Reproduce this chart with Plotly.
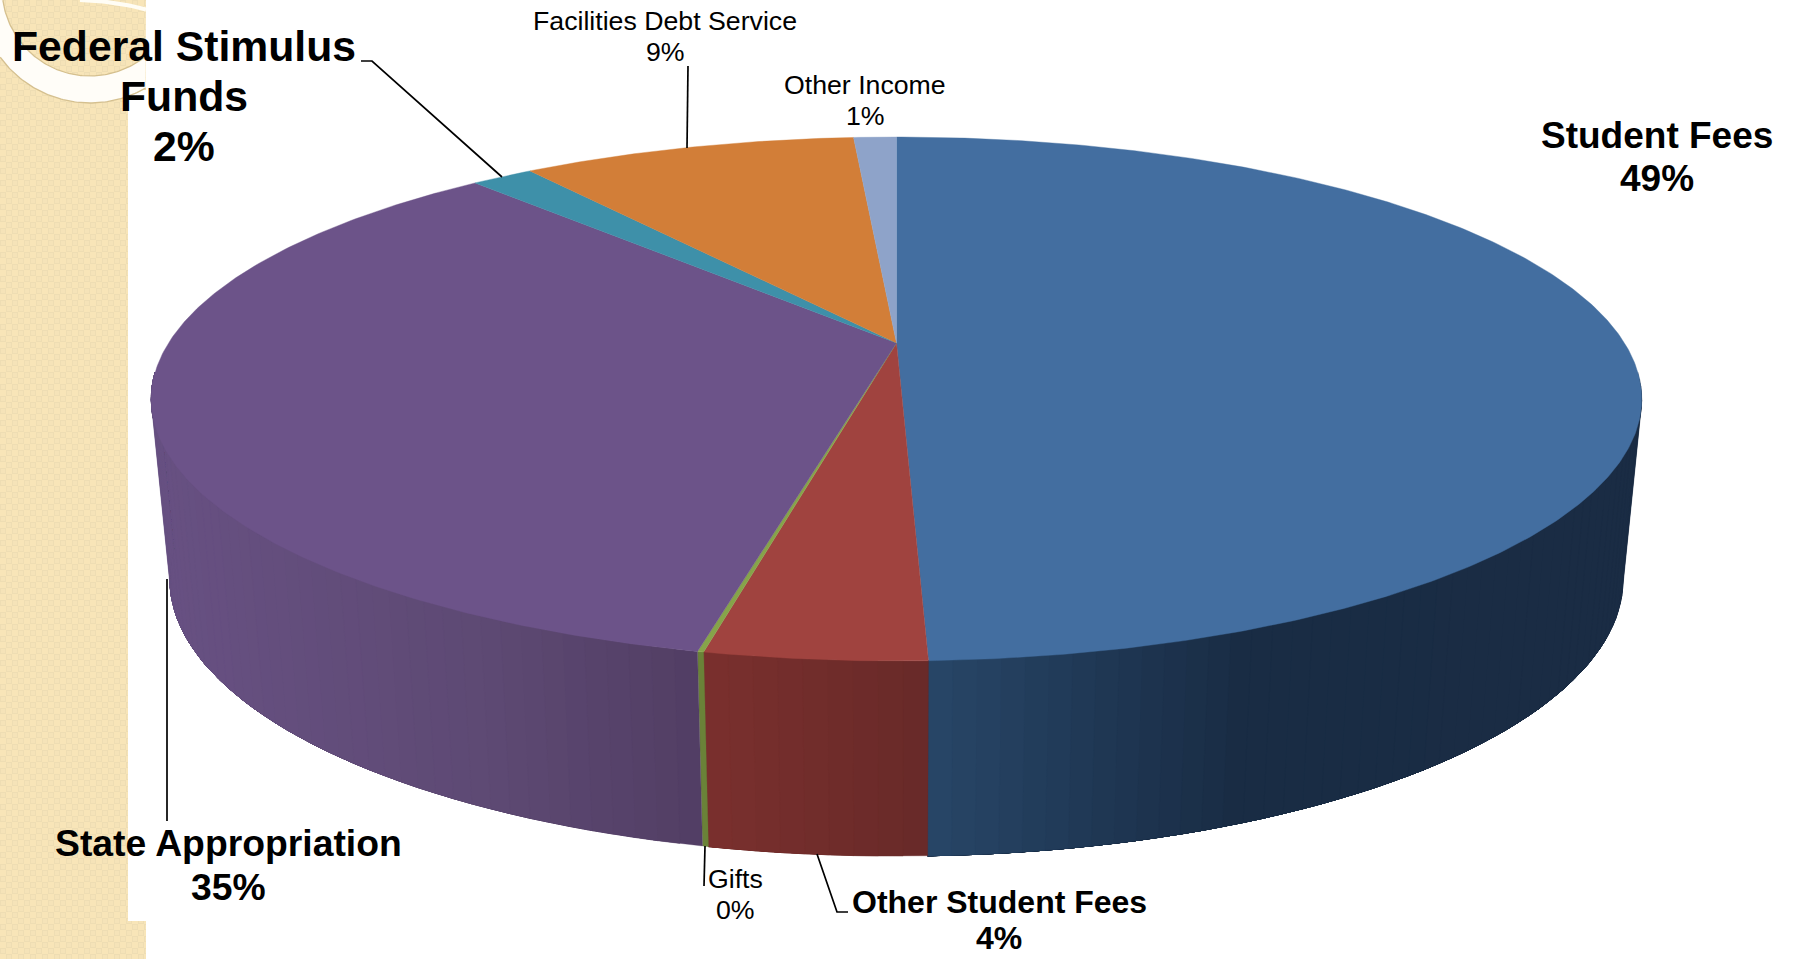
import numpy as np
import plotly.graph_objects as go

# Funding shares, percent, clockwise from twelve o'clock
categories = ["Student Fees", "Other Student Fees", "Gifts", "State Appropriation",
              "Federal Stimulus Funds", "Facilities Debt Service", "Other Income"]
shares = [49.45, 3.91, 0.11, 34.83, 1.65, 8.91, 1.14]

top_colors = ["#436ea0", "#a0433f", "#86a44a", "#6c5389", "#3e90a9", "#d27e38", "#8ea3c9"]
# Side-wall shading as (pixel x, rgb) stops per slice
wall_stops = {
    "Student Fees": [(929, (40, 70, 104)), (1250, (25, 44, 68)), (1640, (27, 45, 69))],
    "Other Student Fees": [(704, (122, 48, 46)), (929, (105, 42, 41))],
    "Gifts": [(690, (106, 130, 56)), (720, (106, 130, 56))],
    "State Appropriation": [(150, (104, 81, 131)), (480, (94, 74, 116)), (700, (82, 62, 100))],
}

W, H = 1797, 959

# Projection of the pie: perspective on a unit disc, separate rims for top and bottom
CX, CY_TOP, CY_BOT = 896.5, 343.0, 520.0
A, B, K = 728.0, 250.0, 0.2137
BOT_X, BOT_Y = 0.975, 1.057


def rim(theta, cy, sx=1.0, sy=1.0):
    x, y = np.sin(theta), np.cos(theta)
    d = 1 + K * y
    return CX + sx * A * x / d, cy - sy * B * y / d


def top_rim(theta):
    return rim(theta, CY_TOP)


def bottom_rim(theta):
    return rim(theta, CY_BOT, BOT_X, BOT_Y)


fig = go.Figure()

# Patterned slide border with the white panel cut out
yy, xx = np.mgrid[0:H, 0:146]
same = (xx % 12 < 6) == (yy % 12 < 6)
inner = (np.abs(xx % 6 - 2.5) < 1.6) & (np.abs(yy % 6 - 2.5) < 1.6)
tile = np.zeros((H, 146, 3), dtype=int)
tile[...] = (248, 229, 184)
tile[same] = (238, 221, 179)
tile[same & inner] = (245, 227, 184)
tile[(xx >= 128) & (yy >= 90) & (yy < 921)] = (255, 255, 255)
fig.add_trace(go.Image(z=tile.tolist(), x0=0.5, y0=0.5, dx=1, dy=1, hoverinfo="skip"))

# Decorative rings in the top-left corner
ang = np.linspace(0, 2 * np.pi, 361)


def ring_pts(cx, cy, r):
    px, py = cx + r * np.cos(ang), cy + r * np.sin(ang)
    keep = (px <= 146) & (px >= 0) & (py >= 0)
    order = np.argsort(px[keep])
    return px[keep][order], py[keep][order]


ox, oy = ring_pts(90, -8, 111)
ix, iy = ring_pts(90, -12, 88)
fig.add_trace(go.Scatter(x=np.r_[ox, 146, ix[::-1], 0, 0], y=np.r_[oy, 0, iy[::-1], 0, oy[0]],
                         mode="lines", fill="toself", fillcolor="#fffdf8",
                         line=dict(width=0), hoverinfo="skip"))
for px, py in ((ox, oy), (ix, iy)):
    fig.add_trace(go.Scatter(x=px, y=py, mode="lines",
                             line=dict(color="#d5c08f", width=1.3), hoverinfo="skip"))
arc_x = np.linspace(80, 146, 30)
fig.add_trace(go.Scatter(x=arc_x, y=270 - np.sqrt(270 ** 2 - (arc_x - 75) ** 2), mode="lines",
                         line=dict(color="#fffdf5", width=4), hoverinfo="skip"))

# Slice boundaries as angles
edges = np.cumsum(np.r_[0, shares]) / np.sum(shares) * 2 * np.pi

# Side wall: each band also covers the rest of its slice and the next band paints
# over it, so neighbouring bands leave no seam and the shading can vary smoothly
for name, a0, a1 in zip(categories, edges[:-1], edges[1:]):
    stops = wall_stops.get(name)
    if stops is None:
        continue
    n = max(1, int(np.degrees(a1 - a0) / 1.5))
    th = np.linspace(a0, a1, n + 1)
    th = th[np.cos(th) < -0.1]
    if len(th) < 2:
        continue
    xs, rgbs = zip(*stops)
    for i in range(len(th) - 1):
        rest = th[i:]
        tx, ty = top_rim(rest)
        bx, by = bottom_rim(rest)
        mid = (tx[0] + tx[1]) / 2
        rgb = [int(np.interp(mid, xs, [c[j] for c in rgbs])) for j in range(3)]
        col = f"rgb({rgb[0]},{rgb[1]},{rgb[2]})"
        fig.add_trace(go.Scatter(x=np.r_[tx, bx[::-1], tx[0]], y=np.r_[ty, by[::-1], ty[0]],
                                 mode="lines", fill="toself", fillcolor=col,
                                 line=dict(color=col, width=0.3), hoverinfo="skip"))

# Top faces, one sector per category
for name, color, a0, a1 in zip(categories, top_colors, edges[:-1], edges[1:]):
    th = np.linspace(a0, a1, max(3, int(np.degrees(a1 - a0) * 2)))
    rx, ry = top_rim(th)
    fig.add_trace(go.Scatter(x=np.r_[CX, rx, CX], y=np.r_[CY_TOP, ry, CY_TOP],
                             mode="lines", fill="toself", fillcolor=color, name=name,
                             line=dict(color=color, width=0.4), hoverinfo="skip"))

# Leader lines
leaders = [
    ([361, 372, 502], [61, 61, 177]),
    ([688, 687], [66, 148]),
    ([705, 704], [846, 886]),
    ([817, 837, 848], [854, 912, 912]),
    ([167, 167], [579, 821]),
]
for lx, ly in leaders:
    fig.add_trace(go.Scatter(x=lx, y=ly, mode="lines",
                             line=dict(color="black", width=1.7), hoverinfo="skip"))

# Data labels: wrapped name lines, then the rounded share
label_style = {
    "Student Fees": dict(lines=["Student Fees"], x=1657, ys=[135, 178], size=37, bold=True),
    "Other Student Fees": dict(lines=["Other Student Fees"], x=999, ys=[902, 938], size=32, bold=True),
    "Gifts": dict(lines=["Gifts"], x=735, ys=[879, 910], size=26.7, bold=False),
    "State Appropriation": dict(lines=["State Appropriation"], x=228, ys=[843, 887], size=37.3, bold=True),
    "Federal Stimulus Funds": dict(lines=["Federal Stimulus", "Funds"], x=184, ys=[46, 96, 146],
                                   size=42.7, bold=True),
    "Facilities Debt Service": dict(lines=["Facilities Debt Service"], x=665, ys=[21, 52], size=26.7, bold=False),
    "Other Income": dict(lines=["Other Income"], x=865, ys=[85, 116], size=26.7, bold=False),
}
for name, share in zip(categories, shares):
    st = label_style[name]
    for text, y in zip(st["lines"] + [f"{round(share)}%"], st["ys"]):
        fig.add_annotation(x=st["x"], y=y, text=f"<b>{text}</b>" if st["bold"] else text,
                           showarrow=False, xanchor="center", yanchor="middle",
                           font=dict(family="Liberation Sans, Arial, sans-serif",
                                     size=st["size"], color="black"))

fig.update_layout(
    width=W, height=H, autosize=False, showlegend=False,
    margin=dict(l=0, r=0, t=0, b=0),
    paper_bgcolor="white", plot_bgcolor="white",
    xaxis=dict(range=[0, W], visible=False, domain=[0, 1], fixedrange=True),
    yaxis=dict(range=[H, 0], autorange=False, visible=False, domain=[0, 1], fixedrange=True),
)

fig.write_html("out.html", config={"displayModeBar": False})
